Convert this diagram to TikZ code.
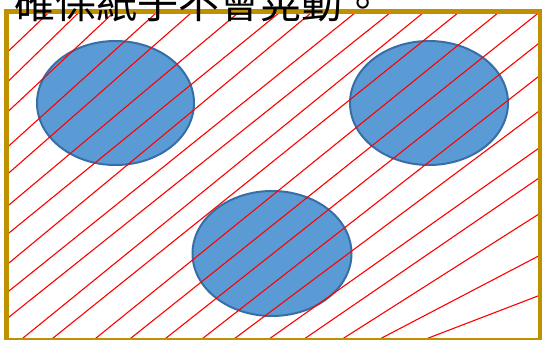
\documentclass[tikz,border=0pt]{standalone}
\usepackage{fontspec}
\newfontfamily\cjk{Noto Sans CJK TC}
\usetikzlibrary{shapes.geometric}
\definecolor{goldframe}{RGB}{191,144,0}
\definecolor{blobfill}{RGB}{91,155,213}
\definecolor{blobline}{RGB}{55,110,165}
\tikzset{
  blob/.style={ellipse, draw=blobline, fill=blobfill, line width=2pt, inner sep=0pt, outer sep=0pt},
  hatch/.style={draw=red, line width=1.1pt},
  frame/.style={draw=goldframe, line width=4.8pt},
  titletext/.style={font=\cjk\fontsize{41}{41}\selectfont, inner sep=0pt, anchor=base west}
}
\begin{document}
\begin{tikzpicture}[x=1pt,y=-1pt]
\useasboundingbox (0,0) rectangle (542,340);
\fill[white] (0,0) rectangle (542,340);
% ellipses
\node[blob, minimum width=157pt, minimum height=124pt] (e1) at (115.5,103) {};
\node[blob, minimum width=158pt, minimum height=124pt] (e2) at (429,103) {};
\node[blob, minimum width=159pt, minimum height=125pt] (e3) at (272,253.5) {};
% red hatch lines
\foreach \ya/\xb in {53/50,83/80,113/115,148/158,175/193,207/240,235/281,265/313,293/357,319/392}
  \draw[hatch] (6.5,\ya) -- (\xb,11.3);
\foreach \xa/\xb in {20/425,50/460,93/500,128/540.5}
  \draw[hatch] (\xa,340.5) -- (\xb,11.3);
\foreach \xa/\yb in {163/42,200/75,232/110,267/147,302/177,340/213,377/255,422/295}
  \draw[hatch] (\xa,340.5) -- (540.5,\yb);
% frame
\draw[frame] (6.5,11.3) rectangle (540.5,340.5);
% title
\node[titletext] (title) at (14,18.5) {確保紙子不會晃動。};
\end{tikzpicture}
\end{document}
